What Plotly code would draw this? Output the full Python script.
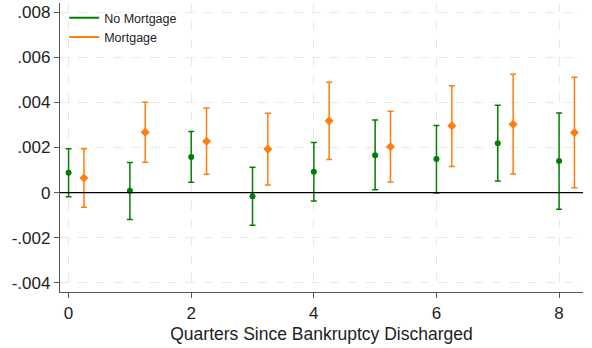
import plotly.graph_objects as go

# Event-time coefficients with 95% confidence bounds
quarters = [0, 1, 2, 3, 4, 5, 6, 7, 8]
offset = 0.25

no_mtg_est = [0.00088, 0.00008, 0.00158, -0.00016, 0.00093, 0.00166, 0.00149, 0.00219, 0.00140]
no_mtg_hi = [0.00194, 0.00134, 0.00271, 0.00112, 0.00222, 0.00322, 0.00297, 0.00387, 0.00353]
no_mtg_lo = [-0.00018, -0.00119, 0.00046, -0.00144, -0.00037, 0.00013, -0.00001, 0.00052, -0.00074]

mtg_est = [0.00065, 0.00268, 0.00228, 0.00193, 0.00318, 0.00203, 0.00296, 0.00303, 0.00266]
mtg_hi = [0.00194, 0.00400, 0.00375, 0.00352, 0.00489, 0.00361, 0.00474, 0.00524, 0.00511]
mtg_lo = [-0.00065, 0.00135, 0.00081, 0.00034, 0.00147, 0.00047, 0.00116, 0.00083, 0.00022]

y_ticks = [-0.004, -0.002, 0, 0.002, 0.004, 0.006, 0.008]
y_tick_text = ["-.004", "-.002", "0", ".002", ".004", ".006", ".008"]
x_ticks = [0, 2, 4, 6, 8]

GREEN = "#008000"
ORANGE = "#ff7f0e"


def plus_minus(est, hi, lo):
    return [h - e for h, e in zip(hi, est)], [e - l for e, l in zip(est, lo)]


fig = go.Figure()

series = [
    ("No Mortgage", quarters, no_mtg_est, no_mtg_hi, no_mtg_lo, GREEN, "circle", 6),
    ("Mortgage", [q + offset for q in quarters], mtg_est, mtg_hi, mtg_lo, ORANGE, "diamond", 7),
]

for name, xs, est, hi, lo, color, symbol, size in series:
    up, down = plus_minus(est, hi, lo)
    fig.add_trace(go.Scatter(
        x=xs, y=est, mode="markers", showlegend=False,
        marker=dict(color=color, symbol=symbol, size=size),
        error_y=dict(type="data", symmetric=False, array=up, arrayminus=down,
                     color=color, thickness=1.5, width=3),
    ))
    # legend key drawn as a short line
    fig.add_trace(go.Scatter(
        x=[None], y=[None], mode="lines", name=name,
        line=dict(color=color, width=2),
    ))

fig.add_hline(y=0, line=dict(color="black", width=1.3), layer="above")

fig.update_layout(
    width=592, height=348,
    margin=dict(l=60, r=9, t=3, b=56),
    paper_bgcolor="white", plot_bgcolor="white",
    font=dict(family="Liberation Sans, Arial, sans-serif", size=17, color="#222"),
    showlegend=True,
    legend=dict(x=0.008, y=1.0, xanchor="left", yanchor="top",
                bgcolor="rgba(255,255,255,0)", font=dict(size=12.5),
                tracegroupgap=0, itemwidth=30),
    xaxis=dict(
        range=[-0.14, 8.39], tickvals=x_ticks,
        showgrid=True, gridcolor="#e8e8e8", griddash="dash", gridwidth=1,
        zeroline=False, showline=True, linecolor="#555", linewidth=1.3,
        ticks="outside", ticklen=5, tickcolor="#555",
        title=dict(text="Quarters Since Bankruptcy Discharged", standoff=6,
                   font=dict(size=17.5)),
    ),
    yaxis=dict(
        range=[-0.0044, 0.0084], tickvals=y_ticks, ticktext=y_tick_text,
        showgrid=True, gridcolor="#e8e8e8", griddash="dash", gridwidth=1,
        zeroline=False, showline=True, linecolor="#555", linewidth=1.3,
        ticks="outside", ticklen=5, tickcolor="#555",
    ),
)

fig.write_html("out.html")
